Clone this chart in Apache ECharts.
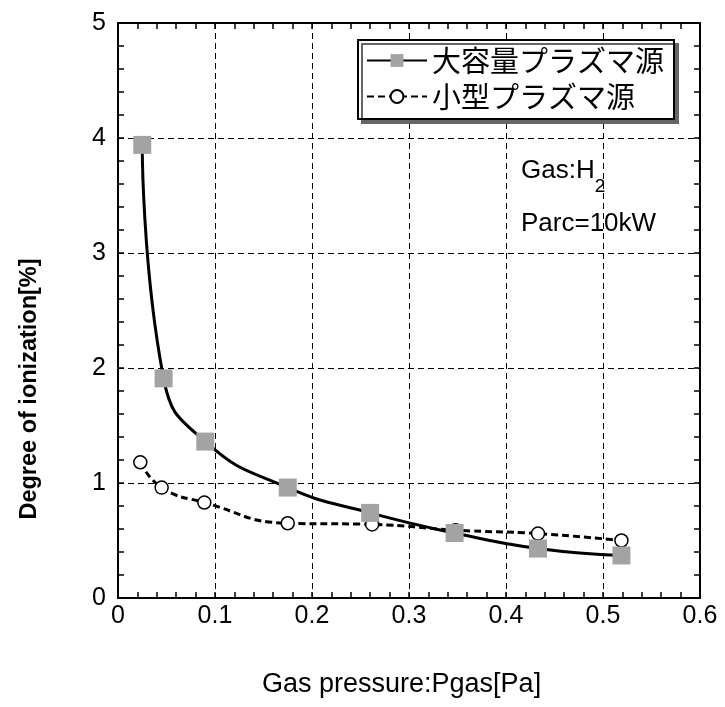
<!DOCTYPE html>
<html><head><meta charset="utf-8">
<script src="https://cdn.jsdelivr.net/npm/echarts@6/dist/echarts.min.js"></script>
<style>html,body{margin:0;padding:0;background:#fff}#c{width:725px;height:707px}</style>
</head><body><div id="c"></div>
<script>
const largeX = [0.025, 0.047, 0.09, 0.175, 0.26, 0.347, 0.433, 0.519];
const largeY = [3.94, 1.91, 1.36, 0.96, 0.74, 0.565, 0.43, 0.37];
const smallX = [0.023, 0.045, 0.089, 0.175, 0.262, 0.348, 0.433, 0.519];
const smallY = [1.18, 0.96, 0.83, 0.65, 0.64, 0.59, 0.56, 0.5];
const seriesNames = ['大容量プラズマ源', '小型プラズマ源'];
const xTitle = 'Gas pressure:Pgas[Pa]';
const yTitle = 'Degree of ionization[%]';

const font = '"Liberation Sans", Arial, sans-serif';
const jp = '"Noto Sans CJK JP", sans-serif';
const chart = echarts.init(document.getElementById('c'));
const grid = {left: 118, right: 25, top: 23, bottom: 109};
const mkX = (show) => ({
  type: 'value', min: 0, max: 0.6, interval: 0.1,
  position: show ? 'bottom' : 'top',
  axisLine: {show: true, onZero: false, lineStyle: {color: '#000', width: 2}},
  axisTick: {show: true, inside: true, length: 6, lineStyle: {color: '#000', width: 1.5}},
  minorTick: {show: true, splitNumber: 5, length: 6, lineStyle: {color: '#000', width: 1.5}},
  axisLabel: {show: show, color: '#000', fontSize: 25, fontFamily: font, margin: 6,
    formatter: v => v === 0 ? '0' : v.toFixed(1)},
  splitLine: {show: show, lineStyle: {color: '#000', type: [6, 4], width: 1}}
});
const mkY = (show) => ({
  type: 'value', min: 0, max: 5, interval: 1,
  position: show ? 'left' : 'right',
  axisLine: {show: true, onZero: false, lineStyle: {color: '#000', width: 2}},
  axisTick: {show: true, inside: true, length: 6, lineStyle: {color: '#000', width: 1.5}},
  minorTick: {show: true, splitNumber: 5, length: 6, lineStyle: {color: '#000', width: 1.5}},
  axisLabel: {show: show, color: '#000', fontSize: 25, fontFamily: font, margin: 12},
  splitLine: {show: show, lineStyle: {color: '#000', type: [6, 4], width: 1}}
});
chart.setOption({
  animation: false,
  backgroundColor: '#fff',
  grid: grid,
  xAxis: [mkX(true), mkX(false)],
  yAxis: [mkY(true), mkY(false)],
  legend: {
    orient: 'vertical', left: 358, top: 40, padding: [6, 10, 8, 8], itemGap: 7,
    itemWidth: 60, itemHeight: 16,
    backgroundColor: '#fff', borderColor: '#000', borderWidth: 2,
    shadowColor: '#666', shadowOffsetX: 4, shadowOffsetY: 4, shadowBlur: 0,
    textStyle: {fontSize: 29, fontFamily: jp, color: '#000'},
    data: seriesNames
  },
  series: [
    {name: seriesNames[0], type: 'line', smooth: 0.5,
     data: largeX.map((x, i) => [x, largeY[i]]),
     symbol: 'rect', symbolSize: 18,
     itemStyle: {color: '#a3a3a3', borderWidth: 0},
     lineStyle: {color: '#000', width: 3}, z: 3},
    {name: seriesNames[1], type: 'line', smooth: 0.5,
     data: smallX.map((x, i) => [x, smallY[i]]),
     symbol: 'circle', symbolSize: 13,
     itemStyle: {color: '#fff', borderColor: '#000', borderWidth: 1.5},
     lineStyle: {color: '#000', width: 3, type: [7, 4]}, z: 2}
  ],
  graphic: [
    {type: 'text', left: 521, top: 158, style: {
      text: '{a|Gas:H}{s|2}', rich: {
        a: {fontSize: 26, fontFamily: font, fill: '#000'},
        s: {fontSize: 19, fontFamily: font, fill: '#000', padding: [32, 0, 0, 0]}
      }}},
    {type: 'text', left: 521, top: 211, style: {
      text: 'Parc=10kW', fontSize: 26, fontFamily: font, fill: '#000'}},
    {type: 'text', left: 262, top: 671, style: {
      text: xTitle, fontSize: 27, fontFamily: font, fill: '#000'}},
    {type: 'text', x: 30, y: 389, rotation: Math.PI / 2, style: {
      text: yTitle, fontSize: 23.5, fontWeight: 'bold', fontFamily: font, fill: '#000',
      align: 'center', verticalAlign: 'middle'}}
  ]
});
</script></body></html>
